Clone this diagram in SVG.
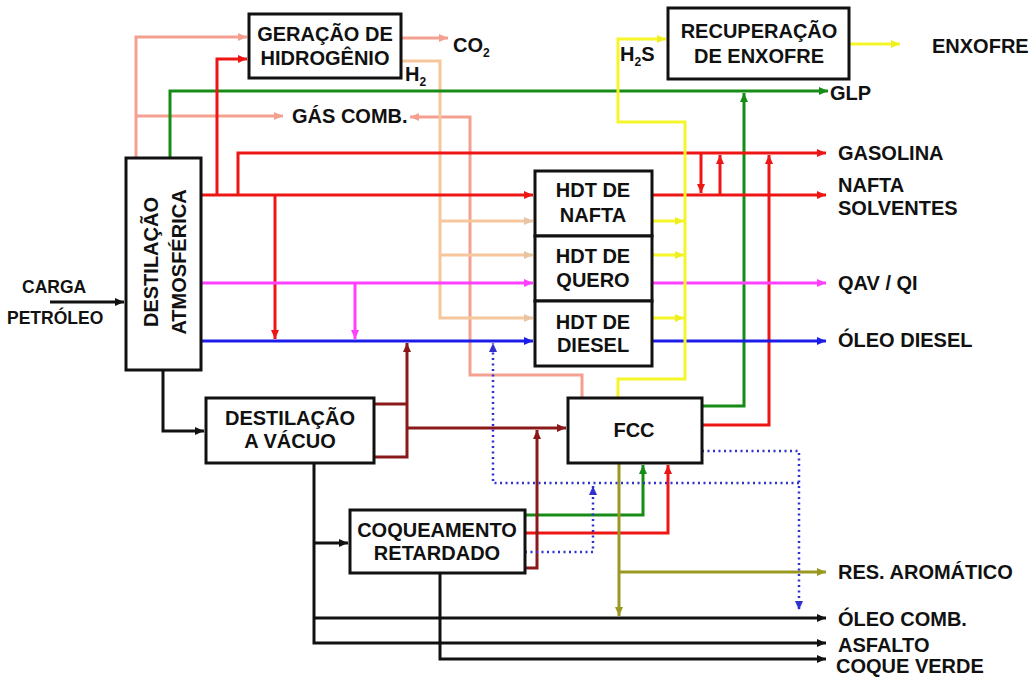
<svg xmlns="http://www.w3.org/2000/svg" width="1034" height="679" viewBox="0 0 1034 679">
<style>
  text { font-family: "Liberation Sans", Arial, sans-serif; font-weight: bold; font-size: 20px; fill: #111; }
  .box { fill: #fff; stroke: #111; stroke-width: 3; }
  .ln { fill: none; stroke-width: 3; stroke-linejoin: miter; }
  .red { stroke: #ee1515; }
  .sal { stroke: #f4a090; }
  .pch { stroke: #f6c69c; }
  .grn { stroke: #168c16; }
  .mag { stroke: #ff40ff; }
  .blu { stroke: #1c1ce8; }
  .yel { stroke: #f5f52a; }
  .mar { stroke: #8a1a1a; }
  .olv { stroke: #999922; }
  .blk { stroke: #111; }
  .dot { stroke: #3030d0; stroke-width: 2.5; stroke-dasharray: 2 3.5; }
  .mid { text-anchor: middle; }
  .sm { font-size: 17.5px; }
</style>
<defs>
  <marker id="a-red" viewBox="0 0 9 8" refX="9" refY="4" markerWidth="9" markerHeight="8" markerUnits="userSpaceOnUse" orient="auto"><path d="M0,0 L9,4 L0,8 z" fill="#ee1515"/></marker>
  <marker id="a-sal" viewBox="0 0 9 8" refX="9" refY="4" markerWidth="9" markerHeight="8" markerUnits="userSpaceOnUse" orient="auto"><path d="M0,0 L9,4 L0,8 z" fill="#f4a090"/></marker>
  <marker id="a-pch" viewBox="0 0 9 8" refX="9" refY="4" markerWidth="9" markerHeight="8" markerUnits="userSpaceOnUse" orient="auto"><path d="M0,0 L9,4 L0,8 z" fill="#e6c4a4"/></marker>
  <marker id="a-grn" viewBox="0 0 9 8" refX="9" refY="4" markerWidth="9" markerHeight="8" markerUnits="userSpaceOnUse" orient="auto"><path d="M0,0 L9,4 L0,8 z" fill="#168c16"/></marker>
  <marker id="a-mag" viewBox="0 0 9 8" refX="9" refY="4" markerWidth="9" markerHeight="8" markerUnits="userSpaceOnUse" orient="auto"><path d="M0,0 L9,4 L0,8 z" fill="#ff40ff"/></marker>
  <marker id="a-blu" viewBox="0 0 9 8" refX="9" refY="4" markerWidth="9" markerHeight="8" markerUnits="userSpaceOnUse" orient="auto"><path d="M0,0 L9,4 L0,8 z" fill="#1c1ce8"/></marker>
  <marker id="a-yel" viewBox="0 0 9 8" refX="9" refY="4" markerWidth="9" markerHeight="8" markerUnits="userSpaceOnUse" orient="auto"><path d="M0,0 L9,4 L0,8 z" fill="#f0f020"/></marker>
  <marker id="a-mar" viewBox="0 0 9 8" refX="9" refY="4" markerWidth="9" markerHeight="8" markerUnits="userSpaceOnUse" orient="auto"><path d="M0,0 L9,4 L0,8 z" fill="#8a1a1a"/></marker>
  <marker id="a-olv" viewBox="0 0 9 8" refX="9" refY="4" markerWidth="9" markerHeight="8" markerUnits="userSpaceOnUse" orient="auto"><path d="M0,0 L9,4 L0,8 z" fill="#999922"/></marker>
  <marker id="a-blk" viewBox="0 0 9 8" refX="9" refY="4" markerWidth="9" markerHeight="8" markerUnits="userSpaceOnUse" orient="auto"><path d="M0,0 L9,4 L0,8 z" fill="#111"/></marker>
  <marker id="a-dot" viewBox="0 0 9 8" refX="9" refY="4" markerWidth="9" markerHeight="8" markerUnits="userSpaceOnUse" orient="auto"><path d="M0,0 L9,4 L0,8 z" fill="#3030d0"/></marker>
</defs>
<rect width="1034" height="679" fill="#fff"/>

<g id="connectors">
  <!-- salmon: atmospheric to H2 generation and fuel gas -->
  <path class="ln sal" d="M136,158 V37 H247" marker-end="url(#a-sal)"/>
  <path class="ln sal" d="M136,116 H283" marker-end="url(#a-sal)"/>
  <path class="ln sal" d="M401,38 H448" marker-end="url(#a-sal)"/>
  <path class="ln sal" d="M582,398 V375 H470 V117 H410" marker-end="url(#a-sal)"/>
  <!-- peach: H2 distribution -->
  <path class="ln pch" d="M401,61 H440 V318 H533" marker-end="url(#a-pch)"/>
  <path class="ln pch" d="M440,221 H533" marker-end="url(#a-pch)"/>
  <path class="ln pch" d="M440,255 H533" marker-end="url(#a-pch)"/>
  <!-- green GLP -->
  <path class="ln grn" d="M170,158 V91 H828" marker-end="url(#a-grn)"/>
  <path class="ln grn" d="M702,406 H744 V93" marker-end="url(#a-grn)"/>
  <path class="ln grn" d="M525,515 H643 V465" marker-end="url(#a-grn)"/>
  <!-- red -->
  <path class="ln red" d="M201,195 H533" marker-end="url(#a-red)"/>
  <path class="ln red" d="M217,195 V59 H247" marker-end="url(#a-red)"/>
  <path class="ln red" d="M238,195 V153 H826" marker-end="url(#a-red)"/>
  <path class="ln red" d="M275,195 V339" marker-end="url(#a-red)"/>
  <path class="ln red" d="M652,195 H826" marker-end="url(#a-red)"/>
  <path class="ln red" d="M701,153 V193" marker-end="url(#a-red)"/>
  <path class="ln red" d="M720,195 V155" marker-end="url(#a-red)"/>
  <path class="ln red" d="M702,425 H769 V155" marker-end="url(#a-red)"/>
  <path class="ln red" d="M525,533 H668 V465" marker-end="url(#a-red)"/>
  <!-- magenta -->
  <path class="ln mag" d="M201,283 H533" marker-end="url(#a-mag)"/>
  <path class="ln mag" d="M355,283 V339" marker-end="url(#a-mag)"/>
  <path class="ln mag" d="M652,283 H826" marker-end="url(#a-mag)"/>
  <!-- blue -->
  <path class="ln blu" d="M201,341 H533" marker-end="url(#a-blu)"/>
  <path class="ln blu" d="M652,341 H826" marker-end="url(#a-blu)"/>
  <!-- yellow: H2S -->
  <path class="ln yel" d="M618,398 V379 H685 V122 H618 V39 H666" marker-end="url(#a-yel)"/>
  <path class="ln yel" d="M652,221 H684" marker-end="url(#a-yel)"/>
  <path class="ln yel" d="M652,255 H684" marker-end="url(#a-yel)"/>
  <path class="ln yel" d="M652,318 H684" marker-end="url(#a-yel)"/>
  <path class="ln yel" d="M849,44 H900" marker-end="url(#a-yel)"/>
  <!-- maroon -->
  <path class="ln mar" d="M374,457 H407 V343" marker-end="url(#a-mar)"/>
  <path class="ln mar" d="M374,404 H407"/>
  <path class="ln mar" d="M407,428 H566" marker-end="url(#a-mar)"/>
  <path class="ln mar" d="M525,568 H537 V430" marker-end="url(#a-mar)"/>
  <!-- olive -->
  <path class="ln olv" d="M619,463 V616" marker-end="url(#a-olv)"/>
  <path class="ln olv" d="M619,572 H826" marker-end="url(#a-olv)"/>
  <!-- blue dotted -->
  <path class="ln dot" d="M799,483 H493 V343" marker-end="url(#a-dot)"/>
  <path class="ln dot" d="M702,451 H799 V610" marker-end="url(#a-dot)"/>
  <path class="ln dot" d="M525,552 H593 V486" marker-end="url(#a-dot)"/>
  <!-- black -->
  <path class="ln blk" d="M50,302 H124" marker-end="url(#a-blk)"/>
  <path class="ln blk" d="M163,370 V431 H204" marker-end="url(#a-blk)"/>
  <path class="ln blk" d="M314,463 V643 H826" marker-end="url(#a-blk)"/>
  <path class="ln blk" d="M314,543 H348" marker-end="url(#a-blk)"/>
  <path class="ln blk" d="M314,618 H826" marker-end="url(#a-blk)"/>
  <path class="ln blk" d="M440,573 V659 H826" marker-end="url(#a-blk)"/>
</g>

<g id="node-atmosferica">
  <rect class="box" x="126" y="158" width="75" height="212"/>
  <text class="mid" transform="translate(158,262) rotate(-90)">DESTILAÇÃO</text>
  <text class="mid" transform="translate(186,262) rotate(-90)">ATMOSFÉRICA</text>
</g>
<g id="node-hidrogenio">
  <rect class="box" x="249" y="14" width="152" height="64"/>
  <text class="mid" x="325" y="41">GERAÇÃO DE</text>
  <text class="mid" x="325" y="65">HIDROGÊNIO</text>
</g>
<g id="node-enxofre">
  <rect class="box" x="668" y="8" width="181" height="71"/>
  <text class="mid" x="759" y="38">RECUPERAÇÃO</text>
  <text class="mid" x="759" y="63">DE ENXOFRE</text>
</g>
<g id="node-hdt-nafta">
  <rect class="box" x="535" y="171" width="117" height="65"/>
  <text class="mid" x="593" y="197">HDT DE</text>
  <text class="mid" x="593" y="222">NAFTA</text>
</g>
<g id="node-hdt-quero">
  <rect class="box" x="535" y="236" width="117" height="65"/>
  <text class="mid" x="593" y="263">HDT DE</text>
  <text class="mid" x="593" y="287">QUERO</text>
</g>
<g id="node-hdt-diesel">
  <rect class="box" x="535" y="301" width="117" height="65"/>
  <text class="mid" x="593" y="329">HDT DE</text>
  <text class="mid" x="593" y="352">DIESEL</text>
</g>
<g id="node-vacuo">
  <rect class="box" x="206" y="398" width="168" height="65"/>
  <text class="mid" x="290" y="425">DESTILAÇÃO</text>
  <text class="mid" x="290" y="448">A VÁCUO</text>
</g>
<g id="node-fcc">
  <rect class="box" x="568" y="398" width="134" height="65"/>
  <text class="mid" x="634" y="437">FCC</text>
</g>
<g id="node-coqueamento">
  <rect class="box" x="350" y="510" width="175" height="63"/>
  <text class="mid" x="437" y="537">COQUEAMENTO</text>
  <text class="mid" x="437" y="560">RETARDADO</text>
</g>

<g id="labels">
  <text class="sm" x="22" y="293">CARGA</text>
  <text class="sm" x="7" y="324">PETRÓLEO</text>
  <text x="453" y="52">CO<tspan style="font-size:12px" dy="5">2</tspan></text>
  <text x="405" y="81">H<tspan style="font-size:12px" dy="5">2</tspan></text>
  <text x="292" y="123">GÁS COMB.</text>
  <text x="620" y="61">H<tspan style="font-size:12px" dy="5">2</tspan><tspan dy="-5">S</tspan></text>
  <text x="932" y="53">ENXOFRE</text>
  <text x="830" y="100">GLP</text>
  <text x="838" y="160">GASOLINA</text>
  <text x="838" y="192">NAFTA</text>
  <text x="838" y="215">SOLVENTES</text>
  <text x="838" y="290">QAV / QI</text>
  <text x="838" y="347">ÓLEO DIESEL</text>
  <text x="838" y="579">RES. AROMÁTICO</text>
  <text x="838" y="626">ÓLEO COMB.</text>
  <text x="838" y="652">ASFALTO</text>
  <text x="836" y="673">COQUE VERDE</text>
</g>
</svg>
